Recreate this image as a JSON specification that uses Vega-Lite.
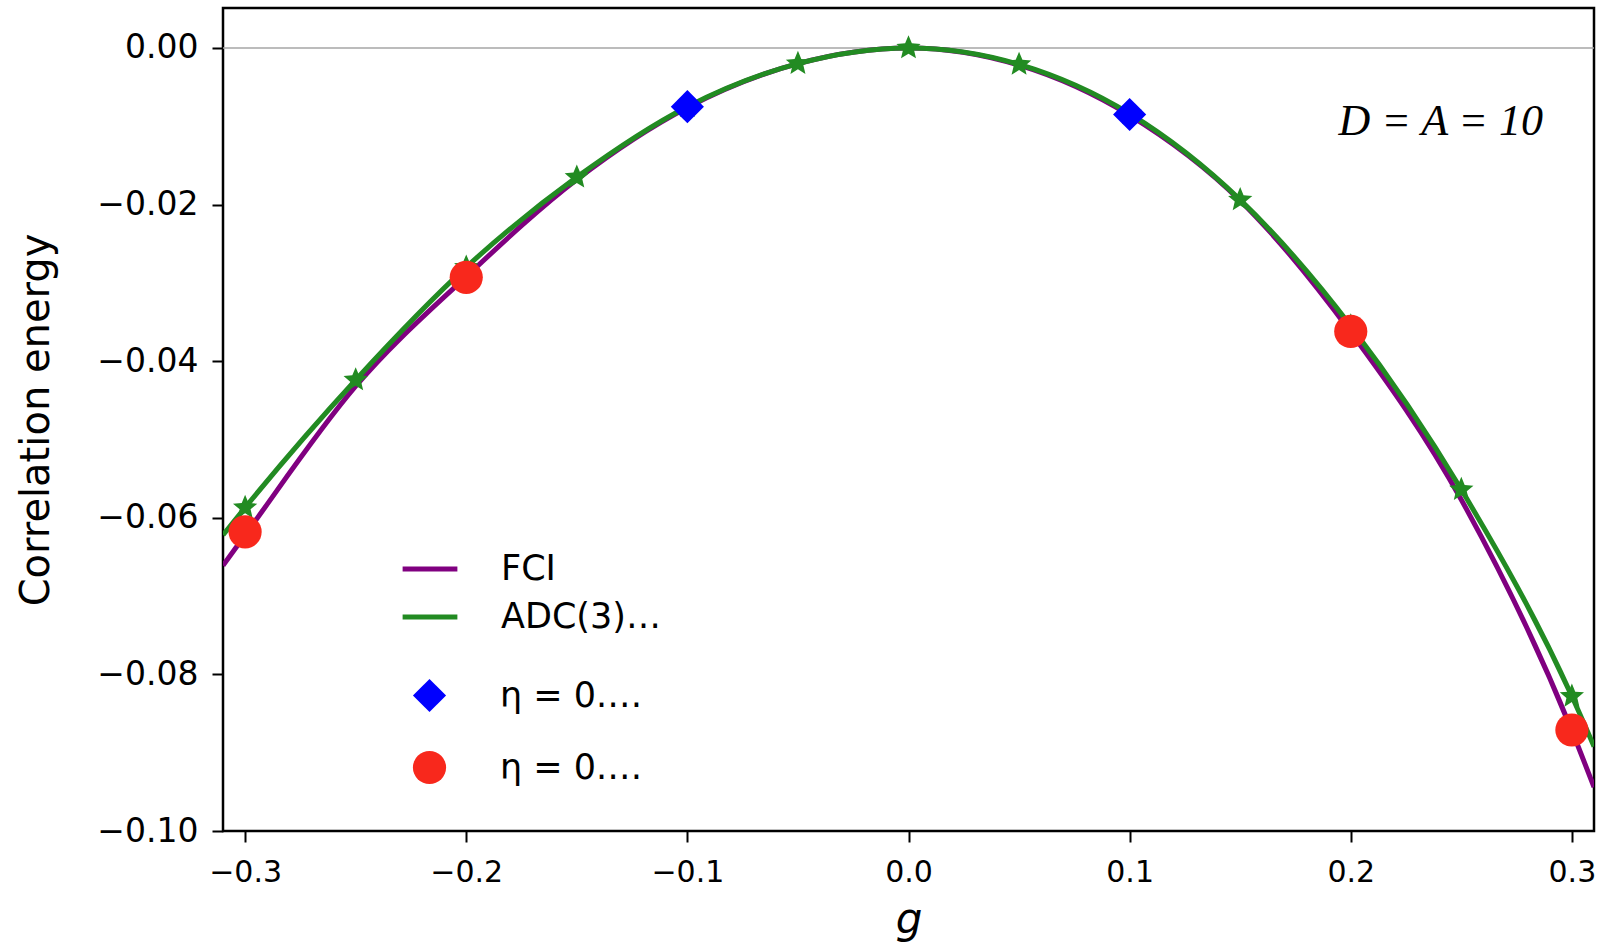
{
  "$schema": "https://vega.github.io/schema/vega-lite/v6.json",
  "width": 1371,
  "height": 823,
  "autosize": {"type": "none"},
  "padding": {"left": 223, "top": 8, "right": 13, "bottom": 119},
  "background": "white",
  "config": {
    "font": "DejaVu Sans",
    "view": {"stroke": "black", "strokeWidth": 2.5},
    "axis": {"grid": false, "domain": false, "tickColor": "black", "tickWidth": 2, "tickSize": 11, "labelColor": "black", "titleColor": "black", "titleFontWeight": "normal", "labelFont": "DejaVu Sans", "titleFont": "DejaVu Sans"}
  },
  "datasets": {
    "curves": [
      {"g": -0.31, "E": -0.0661, "series": "FCI"},
      {"g": -0.30, "E": -0.0622, "series": "FCI"},
      {"g": -0.25, "E": -0.0432, "series": "FCI"},
      {"g": -0.20, "E": -0.0292, "series": "FCI"},
      {"g": -0.15, "E": -0.0168, "series": "FCI"},
      {"g": -0.10, "E": -0.0076, "series": "FCI"},
      {"g": -0.05, "E": -0.0020, "series": "FCI"},
      {"g": 0.00, "E": 0.0, "series": "FCI"},
      {"g": 0.05, "E": -0.0022, "series": "FCI"},
      {"g": 0.10, "E": -0.0086, "series": "FCI"},
      {"g": 0.15, "E": -0.0195, "series": "FCI"},
      {"g": 0.20, "E": -0.0363, "series": "FCI"},
      {"g": 0.25, "E": -0.0577, "series": "FCI"},
      {"g": 0.30, "E": -0.0872, "series": "FCI"},
      {"g": 0.31, "E": -0.0944, "series": "FCI"},
      {"g": -0.31, "E": -0.0622, "series": "ADC(3) (HF ref. sc0)"},
      {"g": -0.30, "E": -0.0587, "series": "ADC(3) (HF ref. sc0)"},
      {"g": -0.25, "E": -0.0424, "series": "ADC(3) (HF ref. sc0)"},
      {"g": -0.20, "E": -0.0280, "series": "ADC(3) (HF ref. sc0)"},
      {"g": -0.15, "E": -0.0165, "series": "ADC(3) (HF ref. sc0)"},
      {"g": -0.10, "E": -0.0075, "series": "ADC(3) (HF ref. sc0)"},
      {"g": -0.05, "E": -0.0020, "series": "ADC(3) (HF ref. sc0)"},
      {"g": 0.00, "E": 0.0, "series": "ADC(3) (HF ref. sc0)"},
      {"g": 0.05, "E": -0.0021, "series": "ADC(3) (HF ref. sc0)"},
      {"g": 0.10, "E": -0.0084, "series": "ADC(3) (HF ref. sc0)"},
      {"g": 0.15, "E": -0.0194, "series": "ADC(3) (HF ref. sc0)"},
      {"g": 0.20, "E": -0.0355, "series": "ADC(3) (HF ref. sc0)"},
      {"g": 0.25, "E": -0.0564, "series": "ADC(3) (HF ref. sc0)"},
      {"g": 0.30, "E": -0.0828, "series": "ADC(3) (HF ref. sc0)"},
      {"g": 0.31, "E": -0.0892, "series": "ADC(3) (HF ref. sc0)"}
    ],
    "stars": [
      {"g": -0.30, "E": -0.0587},
      {"g": -0.25, "E": -0.0424},
      {"g": -0.20, "E": -0.0280},
      {"g": -0.15, "E": -0.0165},
      {"g": -0.10, "E": -0.0075},
      {"g": -0.05, "E": -0.0020},
      {"g": 0.00, "E": 0.0},
      {"g": 0.05, "E": -0.0021},
      {"g": 0.10, "E": -0.0084},
      {"g": 0.15, "E": -0.0194},
      {"g": 0.20, "E": -0.0355},
      {"g": 0.25, "E": -0.0564},
      {"g": 0.30, "E": -0.0828}
    ],
    "dmc": [
      {"g": -0.10, "E": -0.0075, "series": "η = 0.05 diagMC (HF ref., 8ᵗʰ order ladder sc0)"},
      {"g": 0.10, "E": -0.0085, "series": "η = 0.05 diagMC (HF ref., 8ᵗʰ order ladder sc0)"},
      {"g": -0.30, "E": -0.0618, "series": "η = 0.1 diagMC (HF ref., 8ᵗʰ order ladder sc0)"},
      {"g": -0.20, "E": -0.0293, "series": "η = 0.1 diagMC (HF ref., 8ᵗʰ order ladder sc0)"},
      {"g": 0.20, "E": -0.0362, "series": "η = 0.1 diagMC (HF ref., 8ᵗʰ order ladder sc0)"},
      {"g": 0.30, "E": -0.0871, "series": "η = 0.1 diagMC (HF ref., 8ᵗʰ order ladder sc0)"}
    ]
  },
  "layer": [
    {
      "data": {"values": [{}]},
      "mark": {"type": "rule", "color": "#a6a6a6", "strokeWidth": 1.5},
      "encoding": {"y": {"datum": 0, "type": "quantitative", "title": "Correlation energy"}}
    },
    {
      "data": {"name": "curves"},
      "transform": [{"filter": "datum.series == 'FCI'"}],
      "mark": {"type": "line", "strokeWidth": 5, "interpolate": "monotone", "clip": true},
      "encoding": {
        "x": {"field": "g", "type": "quantitative", "title": "g",
          "scale": {"domain": [-0.31, 0.31], "nice": false, "zero": false},
          "axis": {"values": [-0.3, -0.2, -0.1, 0, 0.1, 0.2, 0.3], "format": ".1f", "labelFontSize": 30, "labelPadding": 15, "titleFontSize": 42, "titleFontStyle": "italic", "titlePadding": 12}},
        "y": {"field": "E", "type": "quantitative", "title": "Correlation energy",
          "scale": {"domain": [-0.1, 0.0051], "nice": false, "zero": false},
          "axis": {"values": [-0.1, -0.08, -0.06, -0.04, -0.02, 0], "format": ".2f", "labelFontSize": 33, "labelPadding": 14, "titleFontSize": 40, "titlePadding": 40}},
        "stroke": {"field": "series", "type": "nominal",
          "scale": {"domain": ["FCI", "ADC(3) (HF ref. sc0)"], "range": ["#800080", "#228b22"]},
          "legend": {
            "orient": "none", "legendX": 167, "legendY": 521, "title": null,
            "labelFontSize": 35, "labelColor": "black", "labelFont": "DejaVu Sans",
            "symbolType": "stroke", "symbolSize": 3000, "symbolStrokeWidth": 5, "labelOffset": 41,
            "rowPadding": 0, "padding": 10, "fillColor": "white"
          }}
      }
    },
    {
      "data": {"name": "curves"},
      "transform": [{"filter": "datum.series != 'FCI'"}],
      "mark": {"type": "line", "strokeWidth": 5, "interpolate": "monotone", "clip": true},
      "encoding": {
        "x": {"field": "g", "type": "quantitative", "title": "g"},
        "y": {"field": "E", "type": "quantitative", "title": "Correlation energy"},
        "stroke": {"field": "series", "type": "nominal"}
      }
    },
    {
      "data": {"name": "stars"},
      "mark": {"type": "point", "shape": "M0,-1L0.2645,-0.364L0.951,-0.309L0.428,0.139L0.588,0.809L0,0.45L-0.588,0.809L-0.428,0.139L-0.951,-0.309L-0.2645,-0.364Z", "filled": true, "color": "#228b22", "size": 650, "opacity": 1},
      "encoding": {
        "x": {"field": "g", "type": "quantitative", "title": "g"},
        "y": {"field": "E", "type": "quantitative", "title": "Correlation energy"}
      }
    },
    {
      "data": {"name": "dmc"},
      "mark": {"type": "point", "filled": true, "size": 1100, "opacity": 1},
      "encoding": {
        "x": {"field": "g", "type": "quantitative", "title": "g"},
        "y": {"field": "E", "type": "quantitative", "title": "Correlation energy"},
        "fill": {"field": "series", "type": "nominal",
          "scale": {"domain": ["η = 0.05 diagMC (HF ref., 8ᵗʰ order ladder sc0)", "η = 0.1 diagMC (HF ref., 8ᵗʰ order ladder sc0)"], "range": ["#0000ff", "#f8281c"]},
          "legend": {
            "orient": "none", "legendX": 179, "legendY": 660, "title": null,
            "labelFontSize": 35, "labelColor": "black", "labelFont": "DejaVu Sans",
            "symbolSize": 1100, "symbolStrokeWidth": 0, "labelOffset": 53,
            "rowPadding": 36, "padding": 10, "fillColor": "white"
          }},
        "shape": {"field": "series", "type": "nominal",
          "scale": {"domain": ["η = 0.05 diagMC (HF ref., 8ᵗʰ order ladder sc0)", "η = 0.1 diagMC (HF ref., 8ᵗʰ order ladder sc0)"], "range": ["diamond", "circle"]},
          "legend": {
            "orient": "none", "legendX": 179, "legendY": 660, "title": null,
            "labelFontSize": 35, "labelColor": "black", "labelFont": "DejaVu Sans",
            "symbolSize": 1100, "symbolStrokeWidth": 0, "labelOffset": 53,
            "rowPadding": 36, "padding": 10, "fillColor": "white"
          }}
      }
    },
    {
      "data": {"values": [{}]},
      "mark": {"type": "text", "text": "D = A = 10", "font": "Liberation Serif", "fontStyle": "italic", "fontSize": 44, "align": "right", "baseline": "middle", "color": "black"},
      "encoding": {
        "x": {"datum": 0.2869, "type": "quantitative", "title": "g"},
        "y": {"datum": -0.0094, "type": "quantitative", "title": "Correlation energy"}
      }
    }
  ]
}
